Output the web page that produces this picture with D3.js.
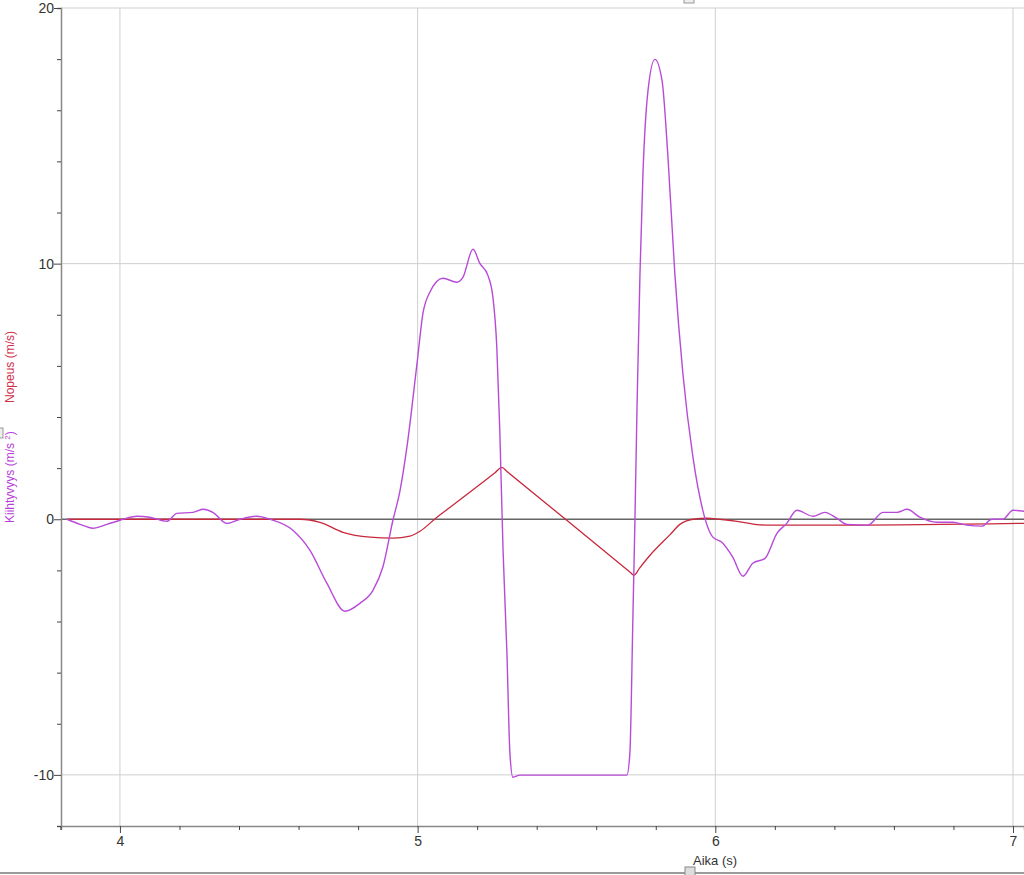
<!DOCTYPE html>
<html>
<head>
<meta charset="utf-8">
<script src="https://cdn.jsdelivr.net/npm/d3@7"></script>
<style>
  body { margin: 0; background: #fff; }
  svg { display: block; font-family: "Liberation Sans", Arial, sans-serif; }
</style>
</head>
<body>
<svg id="chart" width="1024" height="875"></svg>
<script>
// time (s) and acceleration (m/s2)
var accTime = [3.822, 3.866, 3.909, 3.956, 4.0, 4.057, 4.10, 4.158, 4.191, 4.245, 4.279, 4.312, 4.359, 4.403,
    4.460, 4.504, 4.581, 4.638, 4.695, 4.756, 4.806, 4.850, 4.883, 4.917, 4.941, 4.964, 4.998, 5.018, 5.041,
    5.085, 5.132, 5.152, 5.186, 5.209, 5.236, 5.253, 5.266, 5.276, 5.287, 5.300, 5.310, 5.320, 5.344, 5.703,
    5.713, 5.723, 5.730, 5.737, 5.747, 5.757, 5.774, 5.797, 5.821, 5.841, 5.864, 5.891, 5.925, 5.958, 5.992,
    6.022, 6.059, 6.093, 6.126, 6.167, 6.207, 6.240, 6.274, 6.328, 6.368, 6.408, 6.442, 6.513, 6.563, 6.610,
    6.644, 6.687, 6.744, 6.798, 6.845, 6.896, 6.929, 6.966, 7.0, 7.037];
var accValues = [0, -0.2, -0.35, -0.2, -0.04, 0.12, 0.08, -0.08, 0.23, 0.27, 0.39, 0.27, -0.16, 0,
    0.12, 0, -0.43, -1.21, -2.5, -3.6, -3.29, -2.78, -1.88, -0.04, 1.13, 2.82, 6.1, 8.06, 8.88,
    9.43, 9.27, 9.46, 10.56, 10.01, 9.54, 8.68, 6.73, 3.48, -1.21, -5.24, -9.15, -10.09, -10.01, -10.01,
    -9.15, -3.95, -0.04, 4.38, 9.62, 13.53, 16.78, 17.99, 17.17, 14.16, 9.62, 5.71, 2.42, 0.35, -0.7,
    -0.9, -1.49, -2.23, -1.72, -1.53, -0.55, -0.16, 0.35, 0.12, 0.27, 0.04, -0.2, -0.23, 0.27, 0.27,
    0.39, 0.08, -0.12, -0.12, -0.23, -0.27, 0, 0, 0.35, 0.31];

// time (s) and velocity (m/s)
var velTime = [3.822, 4.605, 4.672, 4.749, 4.840, 4.917, 4.974, 5.008, 5.065, 5.10, 5.26, 5.283, 5.30,
    5.71, 5.727, 5.745, 5.780, 5.848, 5.881, 5.925, 5.972, 6.015, 6.073, 6.133, 6.183, 6.452, 7.037];
var velValues = [0, 0, -0.12, -0.51, -0.70, -0.74, -0.66, -0.47, 0.08, 0.39, 1.82, 2.03, 1.87,
    -2.03, -2.19, -1.92, -1.42, -0.6, -0.2, 0, 0.04, 0, -0.08, -0.2, -0.23, -0.23, -0.16];

var xMajor = [4, 5, 6, 7];
var yMajor = [20, 10, 0, -10];

var svg = d3.select("#chart");

var x = d3.scaleLinear().domain([3.802, 7.037]).range([61, 1024]);
var y = d3.scaleLinear().domain([-12, 20]).range([826, 8]);

// grid
svg.append("g").selectAll("line")
    .data(xMajor)
    .enter().append("line")
    .attr("x1", function (d) { return x(d); })
    .attr("x2", function (d) { return x(d); })
    .attr("y1", y(20)).attr("y2", y(-12))
    .style("stroke", "#cfcfcf").style("stroke-width", 1);

svg.append("g").selectAll("line")
    .data(yMajor.filter(function (d) { return d != 0; }))
    .enter().append("line")
    .attr("x1", 61).attr("x2", 1024)
    .attr("y1", function (d) { return y(d); })
    .attr("y2", function (d) { return y(d); })
    .style("stroke", "#cfcfcf").style("stroke-width", 1);

// zero line
svg.append("line")
    .attr("x1", 61).attr("x2", 1024)
    .attr("y1", y(0)).attr("y2", y(0))
    .style("stroke", "#666").style("stroke-width", 1.5);

// axes
var yAxis = d3.axisLeft(y).tickValues(d3.range(-12, 21, 2)).tickSize(4)
    .tickFormat(function (d) { return yMajor.indexOf(d) >= 0 ? d : ""; });
var gy = svg.append("g").attr("transform", "translate(61,0)").call(yAxis);
gy.selectAll(".tick line").attr("x2", function (d) { return yMajor.indexOf(d) >= 0 ? -7 : -4; });

var xTicks = d3.range(19).map(function (i) { return Math.round((3.8 + i * 0.2) * 10) / 10; })
    .filter(function (d) { return d <= 7.03; });
var xAxis = d3.axisBottom(x).tickValues(xTicks).tickSize(4)
    .tickFormat(function (d) { return xMajor.indexOf(d) >= 0 ? d : ""; });
var gx = svg.append("g").attr("transform", "translate(0,826)").call(xAxis);
gx.selectAll(".tick line").attr("y2", function (d) { return xMajor.indexOf(d) >= 0 ? 7 : 4; });

[gx, gy].forEach(function (g) {
    g.select(".domain").style("stroke", "#888").style("stroke-width", 1.5);
    g.selectAll(".tick line").style("stroke", "#444");
    g.selectAll("text").style("font-size", "14px").style("fill", "#333")
        .style("font-family", "Liberation Sans, Arial, sans-serif");
});
gy.selectAll("text").attr("x", -7);
gx.selectAll("text").attr("y", 10);

// curves
var accLine = d3.line()
    .x(function (d, i) { return x(accTime[i]); })
    .y(function (d) { return y(d); })
    .curve(d3.curveMonotoneX);

var velLine = d3.line()
    .x(function (d, i) { return x(velTime[i]); })
    .y(function (d) { return y(d); })
    .curve(d3.curveMonotoneX);

svg.append("path").datum(velValues)
    .attr("d", velLine)
    .style("fill", "none").style("stroke", "#c8283c").style("stroke-width", 1.3);

svg.append("path").datum(accValues)
    .attr("d", accLine)
    .style("fill", "none").style("stroke", "#b84ad8").style("stroke-width", 1.4);

// axis titles
svg.append("text")
    .attr("transform", "translate(14,523) rotate(-90)")
    .style("font-size", "12px").style("fill", "#b83ed8")
    .html('Kiihtyvyys (m/s <tspan dy="-4" font-size="8">2</tspan><tspan dy="4">)</tspan>');

svg.append("text")
    .attr("transform", "translate(14,403) rotate(-90)")
    .style("font-size", "12px").style("fill", "#d0304a")
    .text("Nopeus (m/s)");

svg.append("text")
    .attr("x", 693).attr("y", 865)
    .style("font-size", "13px").style("fill", "#333")
    .text("Aika (s)");

// window scroll bits
svg.append("line")
    .attr("x1", 0).attr("x2", 1024).attr("y1", 873).attr("y2", 873)
    .style("stroke", "#9a9a9a").style("stroke-width", 2);
svg.append("rect")
    .attr("x", 685).attr("y", 867).attr("width", 10).attr("height", 9)
    .style("fill", "#ddd").style("stroke", "#888");
svg.append("rect")
    .attr("x", 684).attr("y", -5).attr("width", 10).attr("height", 8)
    .style("fill", "#eee").style("stroke", "#999");
svg.append("rect")
    .attr("x", -5).attr("y", 428).attr("width", 8).attr("height", 10)
    .style("fill", "#eee").style("stroke", "#999");
</script>
</body>
</html>
